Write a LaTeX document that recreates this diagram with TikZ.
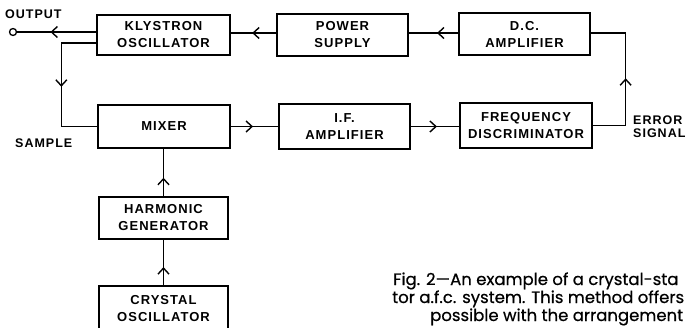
\documentclass[tikz,border=0pt]{standalone}
\usepackage{fontspec}
\newfontfamily\boxfont[LetterSpace=8]{Liberation Sans}
\newfontfamily\capfont[FakeBold=0.6]{Poppins}
\usetikzlibrary{arrows.meta,decorations.markings}
\tikzset{
  barb/.tip={Straight Barb[length=6pt,width=11pt,line width=1.4pt]},
  blk/.style={draw, line width=1.3pt, align=center, inner sep=0pt,
    font=\boxfont\bfseries\fontsize{13}{17}\selectfont},
  lbl/.style={inner sep=0pt, anchor=base west, font=\boxfont\bfseries\fontsize{12.5}{13}\selectfont},
  caplbl/.style={inner sep=0pt, anchor=base west, font=\capfont\fontsize{16.5}{18}\selectfont},
  wire/.style={line width=1.3pt},
  midarrow/.style={postaction={decorate},
    decoration={markings, mark=at position #1 with {\arrow{barb}}}}
}
\begin{document}
\begin{tikzpicture}[x=1pt,y=-1pt]
\useasboundingbox (0,0) rectangle (688,327);
\clip (0,0) rectangle (688,327);
% blocks
\node[blk, minimum width=133pt, minimum height=40pt] (klys) at (163.5,35) {KLYSTRON\\OSCILLATOR};
\node[blk, minimum width=131pt, minimum height=42pt] (power) at (342.5,35) {POWER\\SUPPLY};
\node[blk, minimum width=131pt, minimum height=42pt] (dc) at (524.5,34) {D.C.\\AMPLIFIER};
\node[blk, minimum width=132pt, minimum height=43pt] (mixer) at (164,126.5) {MIXER};
\node[blk, minimum width=131pt, minimum height=45pt] (if) at (344.5,126.5) {I.F.\\AMPLIFIER};
\node[blk, minimum width=132pt, minimum height=45pt] (fd) at (526,125.5) {FREQUENCY\\DISCRIMINATOR};
\node[blk, minimum width=129pt, minimum height=42pt] (harm) at (163.5,218) {HARMONIC\\GENERATOR};
\node[blk, minimum width=129pt, minimum height=46pt] (cry) at (163.5,309) {CRYSTAL\\OSCILLATOR};
% output terminal
\node[circle, draw, line width=1.3pt, minimum size=7pt, inner sep=0pt] (outc) at (13,32) {};
% labels
\node[lbl] (outlbl) at (5,18) {OUTPUT};
\node[lbl] (samplbl) at (15,147) {SAMPLE};
\node[lbl] (errlbl) at (633,124) {ERROR};
\node[lbl] (siglbl) at (633,137) {SIGNAL};
% connectors
\draw[wire, midarrow=0.58] (klys.west |- outc) -- (outc);
\draw[wire, midarrow=0.51] ([yshift=-8pt]klys.west) -- ++(-35,0) |- (mixer.west);
\draw[wire, midarrow=0.53] ([yshift=2pt]power.west) -- ([yshift=2pt]power.west -| klys.east);
\draw[wire, midarrow=0.43] ([yshift=1pt]dc.west) -- ([yshift=1pt]dc.west -| power.east);
\draw[wire, midarrow=0.50] (fd.east) -- ++(33,0) |- ([yshift=1pt]dc.east);
\draw[wire, midarrow=0.47] (mixer.east) -- (mixer.east -| if.west);
\draw[wire, midarrow=0.54] (if.east) -- (if.east -| fd.west);
\draw[wire, midarrow=0.39] (harm.north) -- (harm.north |- mixer.south);
\draw[wire, midarrow=0.40] (cry.north) -- (cry.north |- harm.south);
% caption
\node[caplbl] (cap1) at (393,285) {Fig. 2—An example of a crystal-sta};
\node[caplbl] (cap2) at (392,303) {tor a.f.c. system. This method offers};
\node[caplbl] (cap3) at (430,321) {possible with the arrangement};
\end{tikzpicture}
\end{document}
